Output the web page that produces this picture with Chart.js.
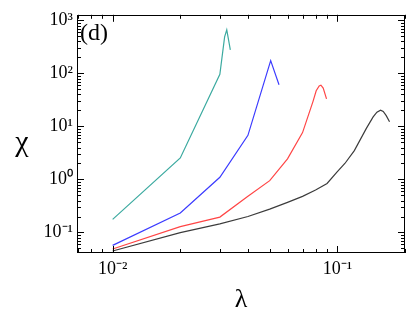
<!DOCTYPE html>
<html lang="en">
<head>
<meta charset="utf-8"/>
<title>chi vs lambda (d)</title>
<style>
  html, body { margin: 0; padding: 0; background: #fff; }
  #wrap { width: 407px; height: 312px; }
</style>
</head>
<body>
<div id="wrap"><canvas id="chart" width="407" height="312"></canvas></div>
<script src="https://cdn.jsdelivr.net/npm/chart.js"></script>
<script>
  // values
  const tealLambda = [0.01, 0.02, 0.03, 0.0309, 0.0315, 0.0322, 0.0334];
  const tealChi = [0.177, 2.55, 96, 257, 487, 665, 277];

  const blueLambda = [0.01, 0.02, 0.03, 0.04, 0.0505, 0.055];
  const blueChi = [0.057, 0.233, 1.1, 6.8, 174, 61];

  const redLambda = [0.01, 0.02, 0.03, 0.04, 0.05, 0.06, 0.07, 0.078, 0.0805, 0.083, 0.0845, 0.0865, 0.0895];
  const redChi = [0.0487, 0.129, 0.195, 0.48, 0.95, 2.45, 7.65, 30, 47, 58, 60, 53, 33];

  const blackLambda = [0.01, 0.02, 0.03, 0.04, 0.05, 0.06, 0.07, 0.08, 0.09, 0.1, 0.108, 0.119, 0.1346, 0.1443, 0.15, 0.1557, 0.16, 0.165, 0.1707];
  const blackChi = [0.0447, 0.099, 0.145, 0.2, 0.275, 0.37, 0.48, 0.63, 0.84, 1.4, 2.0, 3.5, 9.2, 15.1, 18.6, 20.3, 19.2, 16, 12.2];

  const xTickValues = [0.01, 0.1];
  const xTickLabels = ['10⁻²', '10⁻¹'];
  const yTickValues = [0.1, 1, 10, 100, 1000];
  const yTickLabels = ['10⁻¹', '10⁰', '10¹', '10²', '10³'];

  const serif = 'Liberation Serif, Times New Roman, serif';

  function pts(xs, ys) {
    return xs.map((x, i) => ({ x: x, y: ys[i] }));
  }

  function series(label, xs, ys, color) {
    return {
      label: label,
      data: pts(xs, ys),
      borderColor: color,
      borderWidth: 1.2,
      pointRadius: 0,
      tension: 0,
      fill: false
    };
  }

  // frame, inward ticks on all sides, panel label and upright y title
  const framePlugin = {
    id: 'frame',
    afterDraw(chart) {
      const ctx = chart.ctx;
      const a = chart.chartArea;
      const xs = chart.scales.x, ys = chart.scales.y;
      ctx.save();
      ctx.strokeStyle = '#000';
      ctx.lineWidth = 1;
      ctx.strokeRect(Math.round(a.left) + 0.5, Math.round(a.top) + 0.5,
                     Math.round(a.right - a.left) - 1, Math.round(a.bottom - a.top) - 1);

      ctx.beginPath();
      for (let d = -3; d <= 0; d++) {
        for (let m = 1; m <= 9; m++) {
          const v = m * Math.pow(10, d);
          if (v < xs.min || v > xs.max) continue;
          const px = Math.round(xs.getPixelForValue(v)) + 0.5;
          const len = m === 1 ? 7 : 4;
          ctx.moveTo(px, a.bottom); ctx.lineTo(px, a.bottom - len);
          ctx.moveTo(px, a.top); ctx.lineTo(px, a.top + len);
        }
      }
      for (let d = -2; d <= 3; d++) {
        for (let m = 1; m <= 9; m++) {
          const v = m * Math.pow(10, d);
          if (v < ys.min || v > ys.max) continue;
          const py = Math.round(ys.getPixelForValue(v)) + 0.5;
          const len = m === 1 ? 7 : 4;
          ctx.moveTo(a.left, py); ctx.lineTo(a.left + len, py);
          ctx.moveTo(a.right, py); ctx.lineTo(a.right - len, py);
        }
      }
      ctx.stroke();

      ctx.fillStyle = '#000';
      ctx.textBaseline = 'middle';
      ctx.textAlign = 'left';
      ctx.font = '24px ' + serif;
      ctx.fillText('(d)', a.left + 3, a.top + 19);

      ctx.textAlign = 'center';
      ctx.font = '30px ' + serif;
      ctx.fillText('χ', 22, 143);
      ctx.restore();
    }
  };

  new Chart(document.getElementById('chart').getContext('2d'), {
    type: 'line',
    data: {
      datasets: [
        series('teal', tealLambda, tealChi, 'rgb(60,170,160)'),
        series('blue', blueLambda, blueChi, 'rgb(60,60,255)'),
        series('red', redLambda, redChi, 'rgb(255,70,70)'),
        series('black', blackLambda, blackChi, 'rgb(60,60,60)')
      ]
    },
    options: {
      responsive: false,
      animation: false,
      layout: { padding: { top: 9, right: 2, left: 0, bottom: 0 } },
      plugins: { legend: { display: false }, tooltip: { enabled: false } },
      scales: {
        x: {
          type: 'logarithmic',
          min: 0.00694,
          max: 0.2,
          grid: { display: false, drawTicks: false },
          border: { display: false },
          afterBuildTicks: s => { s.ticks = xTickValues.map(v => ({ value: v })); },
          afterFit: s => { s.height = 59; },
          ticks: {
            autoSkip: false,
            maxRotation: 0,
            padding: 5,
            color: '#000',
            font: { family: serif, size: 18 },
            callback: v => xTickLabels[xTickValues.indexOf(v)] ?? ''
          },
          title: {
            display: true,
            text: 'λ',
            color: '#000',
            font: { family: serif, size: 26, lineHeight: 1 },
            padding: { top: 0, bottom: -1 }
          }
        },
        y: {
          type: 'logarithmic',
          min: 0.041,
          max: 1274,
          grid: { display: false, drawTicks: false },
          border: { display: false },
          afterBuildTicks: s => { s.ticks = yTickValues.map(v => ({ value: v })); },
          afterFit: s => { s.width = 77; },
          ticks: {
            autoSkip: false,
            padding: 4,
            color: '#000',
            font: { family: serif, size: 18 },
            callback: v => yTickLabels[yTickValues.indexOf(v)] ?? ''
          }
        }
      }
    },
    plugins: [framePlugin]
  });
</script>
</body>
</html>
